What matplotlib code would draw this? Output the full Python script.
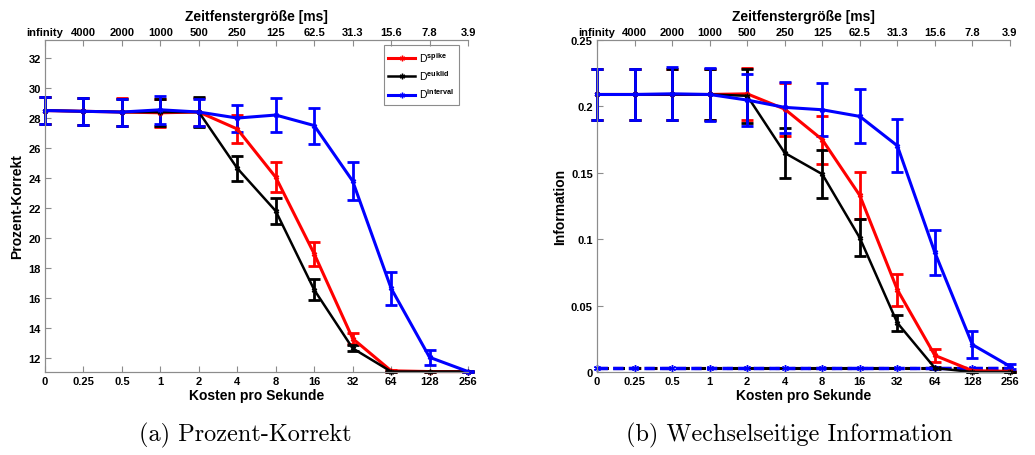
import numpy as np
import matplotlib
matplotlib.use('Agg')
import matplotlib.pyplot as plt

plt.rcParams['font.family'] = ['Liberation Sans', 'DejaVu Sans']
plt.rcParams['mathtext.fontset'] = 'custom'
plt.rcParams['mathtext.rm'] = 'Liberation Sans:bold'

cost_labels = ['0', '0.25', '0.5', '1', '2', '4', '8', '16', '32', '64', '128', '256']
window_labels = ['infinity', '4000', '2000', '1000', '500', '250', '125', '62.5',
                 '31.3', '15.6', '7.8', '3.9']

# (a) Prozent-Korrekt
pc_spike = [28.5, 28.45, 28.4, 28.35, 28.4, 27.27, 24.05, 18.95, 13.3, 11.15, 11.1, 11.1]
pc_spike_err = [0.9, 0.9, 0.95, 0.95, 0.95, 0.93, 1.0, 0.8, 0.35, 0.05, 0.02, 0.02]
pc_euklid = [28.5, 28.45, 28.4, 28.4, 28.4, 24.65, 21.8, 16.55, 12.65, 11.1, 11.1, 11.1]
pc_euklid_err = [0.9, 0.9, 0.9, 0.9, 1.0, 0.85, 0.85, 0.7, 0.2, 0.05, 0.02, 0.02]
pc_interval = [28.5, 28.45, 28.4, 28.55, 28.4, 28.0, 28.2, 27.5, 23.8, 16.65, 12.05, 11.1]
pc_interval_err = [0.9, 0.9, 0.9, 0.95, 0.9, 0.9, 1.15, 1.2, 1.25, 1.1, 0.5, 0.05]

# (b) Wechselseitige Information
mi_spike = [0.209, 0.209, 0.209, 0.209, 0.2095, 0.198, 0.175, 0.133, 0.062, 0.0125, 0.001, 0.0005]
mi_spike_err = [0.0195, 0.0195, 0.0195, 0.0195, 0.0196, 0.02, 0.018, 0.0175, 0.012, 0.0048, 0.0005, 0.0003]
mi_euklid = [0.209, 0.209, 0.209, 0.209, 0.208, 0.165, 0.149, 0.101, 0.037, 0.003, 0.0, 0.0]
mi_euklid_err = [0.0195, 0.0195, 0.0195, 0.0195, 0.0205, 0.019, 0.018, 0.014, 0.0063, 0.001, 0.0003, 0.0003]
mi_interval = [0.209, 0.209, 0.2095, 0.209, 0.2048, 0.1993, 0.1975, 0.1925, 0.1704, 0.09, 0.0206, 0.0043]
mi_interval_err = [0.0195, 0.0195, 0.02, 0.02, 0.0195, 0.019, 0.02, 0.0203, 0.02, 0.017, 0.0104, 0.002]
# shuffled baselines
mi_spike_shuf = [0.0028] * 12
mi_euklid_shuf = [0.0028] * 12
mi_interval_shuf = [0.0028] * 12

x = np.arange(len(cost_labels))
spine_gray = '#8c8c8c'
star = (6, 2, 0)


def style_axes(ax, yticks, ylabels, ylim, ylabel):
    ax.set_xlim(0, 11)
    ax.set_ylim(*ylim)
    ax.set_xticks(x)
    ax.set_xticklabels(cost_labels, fontsize=8, fontweight='bold')
    ax.set_yticks(yticks)
    ax.set_yticklabels(ylabels, fontsize=8, fontweight='bold')
    ax.tick_params(direction='in', length=4, color=spine_gray, pad=3)
    ax.set_xlabel('Kosten pro Sekunde', fontsize=10, fontweight='bold', labelpad=1)
    ax.set_ylabel(ylabel, fontsize=10, fontweight='bold', labelpad=3)
    ax.spines['right'].set_visible(False)
    for s in ['left', 'bottom', 'top']:
        ax.spines[s].set_color(spine_gray)
    top = ax.twiny()
    top.set_xlim(0, 11)
    top.set_xticks(x)
    top.set_xticklabels(window_labels, fontsize=8, fontweight='bold')
    top.tick_params(direction='in', length=4, color=spine_gray, pad=2)
    top.set_xlabel('Zeitfenstergröße [ms]', fontsize=10, fontweight='bold', labelpad=5)
    top.spines['right'].set_visible(False)
    for s in ['left', 'bottom', 'top']:
        top.spines[s].set_color(spine_gray)


def curve(ax, y, err, color, lw, label=None):
    return ax.errorbar(x, y, yerr=err, color=color, lw=lw, elinewidth=2, capsize=4,
                       capthick=2, marker=star, markersize=4, label=label, clip_on=False)


fig = plt.figure(figsize=(10.35, 4.56), dpi=100)
ax1 = fig.add_axes([0.0435, 0.182, 0.4087, 0.728])
ax2 = fig.add_axes([0.5768, 0.182, 0.399, 0.728])

h1 = curve(ax1, pc_spike, pc_spike_err, 'red', 2.2)
h2 = curve(ax1, pc_euklid, pc_euklid_err, 'black', 1.8)
h3 = curve(ax1, pc_interval, pc_interval_err, 'blue', 2.2)
leg = ax1.legend([h1[0], h2[0], h3[0]],
                 [r'D$^{\mathrm{spike}}$', r'D$^{\mathrm{euklid}}$', r'D$^{\mathrm{interval}}$'],
                 loc='upper right', bbox_to_anchor=(0.979, 0.985), borderaxespad=0,
                 fontsize=7.5, fancybox=False, framealpha=1, edgecolor=spine_gray,
                 handlelength=2.6, handletextpad=0.4, borderpad=0.45, labelspacing=0.45)
leg.get_frame().set_linewidth(0.8)
style_axes(ax1, np.arange(12, 33, 2), [str(v) for v in range(12, 33, 2)],
           (11.07, 33.2), 'Prozent-Korrekt')

curve(ax2, mi_spike, mi_spike_err, 'red', 2.2)
curve(ax2, mi_euklid, mi_euklid_err, 'black', 1.8)
curve(ax2, mi_interval, mi_interval_err, 'blue', 2.2)
ax2.plot(x, mi_spike_shuf, '--', color='red', lw=2.2, clip_on=False)
ax2.plot(x, mi_euklid_shuf, '--', color='black', lw=2.2, clip_on=False)
ax2.plot(x, mi_interval_shuf, '--', color='blue', lw=2.5, marker=star, markersize=5,
         dashes=(3, 1.5), clip_on=False)
style_axes(ax2, [0, 0.05, 0.1, 0.15, 0.2, 0.25], ['0', '0.05', '0.1', '0.15', '0.2', '0.25'],
           (0, 0.25), 'Information')

fig.text(0.237, 0.044, '(a) Prozent-Korrekt', family='cmr10', fontsize=17.5,
         ha='center', va='center')
fig.text(0.763, 0.044, '(b) Wechselseitige Information', family='cmr10', fontsize=17.5,
         ha='center', va='center')

fig.savefig('out.png', dpi=100)
plt.close(fig)
